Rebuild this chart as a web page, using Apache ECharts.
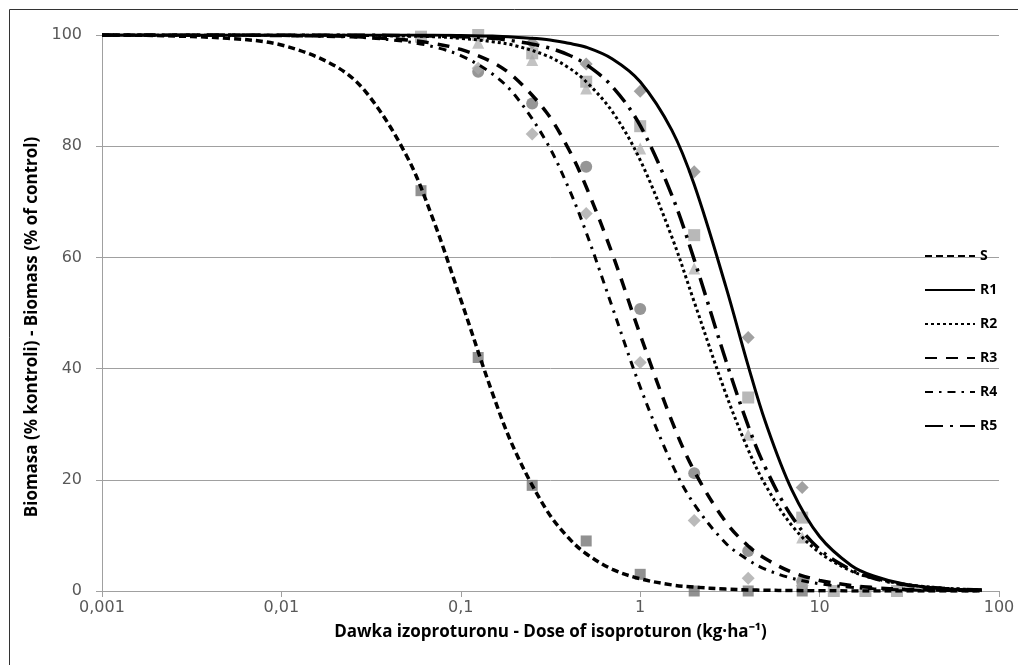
<!DOCTYPE html>
<html>
<head>
<meta charset="utf-8">
<script src="https://cdn.jsdelivr.net/npm/echarts@6/dist/echarts.min.js"></script>
<style>
  html, body { margin: 0; padding: 0; background: #fff; }
  #chart { width: 1018px; height: 665px; }
</style>
</head>
<body>
<div id="chart"></div>
<script>
// doses used to trace the fitted curves (kg/ha)
const curveDose = [0.001, 0.002, 0.005, 0.01, 0.02, 0.03, 0.05, 0.07, 0.1, 0.15, 0.2, 0.3, 0.4, 0.5, 0.7,
  1, 1.5, 2, 3, 4, 5, 7, 10, 15, 20, 30, 50, 80];

// fitted curves, biomass % of control
const curveS  = [100, 99.9, 99.4, 98.2, 94.4, 89.5, 78.2, 66.9, 52.4, 35.6, 25.3, 14.6, 9.5, 6.7, 3.9,
  2.2, 1.1, 0.7, 0.34, 0.2, 0.14, 0.08, 0.04, 0.02, 0.01, 0, 0, 0];
const curveR1 = [100, 100, 100, 100, 100, 100, 100, 100, 99.9, 99.8, 99.6, 99.2, 98.5, 97.8, 95.7,
  91.6, 82.9, 73.1, 54.8, 40.5, 30.3, 18.2, 9.8, 4.6, 2.7, 1.2, 0.4, 0.2];
const curveR2 = [100, 100, 100, 100, 100, 99.9, 99.8, 99.7, 99.4, 98.8, 98.1, 96.3, 94.1, 91.6, 86.2,
  77.5, 63.7, 52.0, 35.5, 25.4, 19.0, 11.8, 6.9, 3.6, 2.3, 1.2, 0.5, 0.2];
const curveR3 = [100, 100, 100, 99.9, 99.8, 99.6, 99.1, 98.5, 97.4, 95.1, 92.3, 86.1, 79.4, 72.7, 60.6,
  46.1, 30.6, 21.6, 12.4, 8.1, 5.8, 3.4, 1.9, 1.0, 0.6, 0.3, 0.14, 0.06];
const curveR4 = [100, 100, 100, 99.9, 99.7, 99.5, 98.8, 97.9, 96.3, 93.0, 89.2, 80.8, 72.4, 64.5, 51.0,
  36.7, 22.9, 15.6, 8.6, 5.6, 3.9, 2.3, 1.3, 0.66, 0.4, 0.2, 0.1, 0.04];
const curveR5 = [100, 100, 100, 100, 100, 100, 99.9, 99.8, 99.7, 99.4, 98.9, 97.8, 96.4, 94.7, 90.7,
  83.7, 71.2, 59.6, 41.5, 29.7, 22.1, 13.4, 7.5, 3.8, 2.3, 1.1, 0.45, 0.19];

// observed points
const doseS  = [0.06, 0.125, 0.25, 0.5, 1, 2, 4, 8];
const obsS   = [72, 42, 19, 9, 3, 0, 0, 0];
const doseR1 = [0.25, 0.5, 1, 2, 4, 8];
const obsR1  = [98.6, 94.8, 89.9, 75.4, 45.6, 18.6];
const doseR2 = [0.125, 0.25, 0.5, 1, 2, 4, 8];
const obsR2  = [98.6, 95.5, 90.4, 79.6, 58, 28.1, 9.6];
const doseR3 = [0.125, 0.25, 0.5, 1, 2, 4, 8];
const obsR3  = [93.4, 87.7, 76.3, 50.7, 21.2, 7.2, 1.7];
const doseR4 = [0.125, 0.25, 0.5, 1, 2, 4, 8];
const obsR4  = [94, 82.2, 67.9, 41.1, 12.7, 2.3, 1];
const doseR5 = [0.06, 0.125, 0.25, 0.5, 1, 2, 4, 8, 12, 18, 27];
const obsR5  = [99.7, 100, 96.7, 91.6, 83.6, 64, 34.8, 13.2, 0, 0, 0];

const names = ["S", "R1", "R2", "R3", "R4", "R5"];

function pairs(xs, ys) {
  return xs.map((x, i) => [x, ys[i]]);
}

const chart = echarts.init(document.getElementById("chart"));

const curves = [curveS, curveR1, curveR2, curveR3, curveR4, curveR5];
const dashes = [
  { width: 3.5, type: [7, 4] },
  { width: 3, type: "solid" },
  { width: 3, type: [3, 3] },
  { width: 3.5, type: [12, 9] },
  { width: 3, type: [8, 6, 2.5, 6] },
  { width: 3.5, type: [18, 7, 3, 7] },
];

const lineSeries = curves.map((c, i) => ({
  name: names[i],
  type: "line",
  data: pairs(curveDose, c),
  symbol: "none",
  smooth: 0.35,
  z: 3,
  lineStyle: { color: "#000", width: dashes[i].width, type: dashes[i].type, cap: "butt" },
  itemStyle: { color: "#000" },
}));

const pts = [
  { d: doseS, v: obsS, sym: "rect", size: 11, color: "#767676" },
  { d: doseR1, v: obsR1, sym: "diamond", size: 13, color: "#8a8a8a" },
  { d: doseR2, v: obsR2, sym: "triangle", size: 12, color: "#b4b4b4" },
  { d: doseR3, v: obsR3, sym: "circle", size: 12, color: "#7c7c7c" },
  { d: doseR4, v: obsR4, sym: "diamond", size: 13, color: "#a9a9a9" },
  { d: doseR5, v: obsR5, sym: "rect", size: 12, color: "#a6a6a6" },
];

const pointSeries = pts.map((p, i) => ({
  name: "obs " + names[i],
  type: "scatter",
  data: pairs(p.d, p.v),
  symbol: p.sym,
  symbolSize: p.size,
  itemStyle: { color: p.color },
  z: 1,
}));

const option = {
  animation: false,
  backgroundColor: "#fff",
  graphic: [{
    type: "rect",
    shape: { x: 9.5, y: 9.5, width: 1100, height: 800 },
    style: { fill: "none", stroke: "#333", lineWidth: 1 },
    z: -1,
  }],
  grid: { left: 102, right: 19, top: 35, bottom: 74 },
  legend: {
    data: names,
    orient: "vertical",
    left: 919,
    top: 244,
    itemWidth: 50,
    itemHeight: 14,
    itemGap: 20,
    itemStyle: { opacity: 0 },
    textStyle: { fontFamily: "Open Sans", fontWeight: "bold", fontSize: 14, color: "#000" },
  },
  xAxis: {
    type: "log",
    logBase: 10,
    min: 0.001,
    max: 100,
    name: "Dawka izoproturonu - Dose of isoproturon (kg·ha⁻¹)",
    nameLocation: "middle",
    nameGap: 33,
    nameTextStyle: { fontFamily: "Open Sans", fontWeight: "bold", fontSize: 17, color: "#000" },
    axisLine: { lineStyle: { color: "#a0a0a0", width: 1 } },
    axisTick: { show: true, length: 6, lineStyle: { color: "#a0a0a0" } },
    minorTick: { show: false },
    splitLine: { show: false },
    axisLabel: {
      margin: 9,
      fontFamily: "DejaVu Sans",
      fontSize: 16,
      color: "#595959",
      formatter: v => String(v).replace(".", ","),
    },
  },
  yAxis: {
    type: "value",
    min: 0,
    max: 100,
    interval: 20,
    name: "Biomasa (% kontroli) - Biomass (% of control)",
    nameLocation: "middle",
    nameRotate: 90,
    nameGap: 56,
    nameTextStyle: { fontFamily: "Open Sans", fontWeight: "bold", fontSize: 17, color: "#000", padding: [0, 28, 0, 0] },
    axisLine: { show: true, lineStyle: { color: "#a0a0a0", width: 1 } },
    axisTick: { show: true, length: 6, lineStyle: { color: "#a0a0a0" } },
    splitLine: { lineStyle: { color: "#a0a0a0", width: 1 } },
    axisLabel: { margin: 20, fontFamily: "DejaVu Sans", fontSize: 16, color: "#595959" },
  },
  series: [...pointSeries, ...lineSeries],
};

chart.setOption(option);
</script>
</body>
</html>
